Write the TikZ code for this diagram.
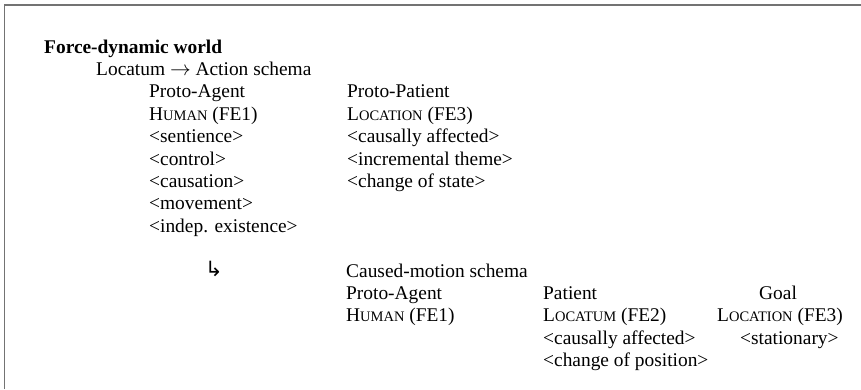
\documentclass[tikz,border=0pt]{standalone}
\usepackage{fontspec}
\setmainfont{Liberation Serif}
\newfontfamily\arrowfont{DejaVu Sans}
\newcommand{\mysc}[1]{{\fontsize{14.5pt}{14.5pt}\selectfont #1}}
\begin{document}
\begin{tikzpicture}[x=1pt,y=1pt,
  txt/.style={inner sep=0pt, anchor=base west, text height=13.5pt, text depth=4pt, font=\fontsize{19.4pt}{22.4pt}\selectfont},
  frameline/.style={draw=black!55, line width=1.4pt}]
\useasboundingbox (0,0) rectangle (861,-389);
\draw[frameline] (4.5,-389) -- (4.5,-5) -- (861,-5);
% line baselines: 53 + 22.4 k
\node[txt, font=\fontsize{19.4pt}{22.4pt}\selectfont\bfseries] (fdw) at (44,-53) {Force-dynamic world};
\node[txt] (las) at (96,-75.4) {Locatum $\rightarrow$ Action schema};
% Action schema, Proto-Agent column
\node[txt] (pa1) at (149,-97.8) {Proto-Agent};
\node[txt] (hu1) at (149,-120.2) {H\mysc{UMAN} (FE1)};
\node[txt] (se) at (149,-142.6) {<sentience>};
\node[txt] (co) at (149,-165.0) {<control>};
\node[txt] (ca) at (149,-187.4) {<causation>};
\node[txt] (mo) at (149,-209.8) {<movement>};
\node[txt] (ie) at (149,-232.2) {<indep. existence>};
% Proto-Patient column
\node[txt] (pp) at (347,-97.8) {Proto-Patient};
\node[txt] (lo1) at (347,-120.2) {L\mysc{OCATION} (FE3)};
\node[txt] (caf1) at (347,-142.6) {<causally affected>};
\node[txt] (inc) at (347,-165.0) {<incremental theme>};
\node[txt] (cos) at (347,-187.4) {<change of state>};
% arrow
\node[txt, font=\arrowfont\fontsize{21pt}{21pt}\selectfont] (arr) at (205,-276) {↳};
% Caused-motion schema
\node[txt] (cms) at (346,-277) {Caused-motion schema};
\node[txt] (pa2) at (346,-299.4) {Proto-Agent};
\node[txt] (hu2) at (346,-321.8) {H\mysc{UMAN} (FE1)};
\node[txt] (pat) at (543,-299.4) {Patient};
\node[txt] (lm) at (543,-321.8) {L\mysc{OCATUM} (FE2)};
\node[txt] (caf2) at (543,-344.2) {<causally affected>};
\node[txt] (cop) at (543,-366.6) {<change of position>};
\node[txt] (goal) at (759,-299.4) {Goal};
\node[txt] (lo2) at (717,-321.8) {L\mysc{OCATION} (FE3)};
\node[txt] (st) at (740,-344.2) {<stationary>};
\end{tikzpicture}
\end{document}
